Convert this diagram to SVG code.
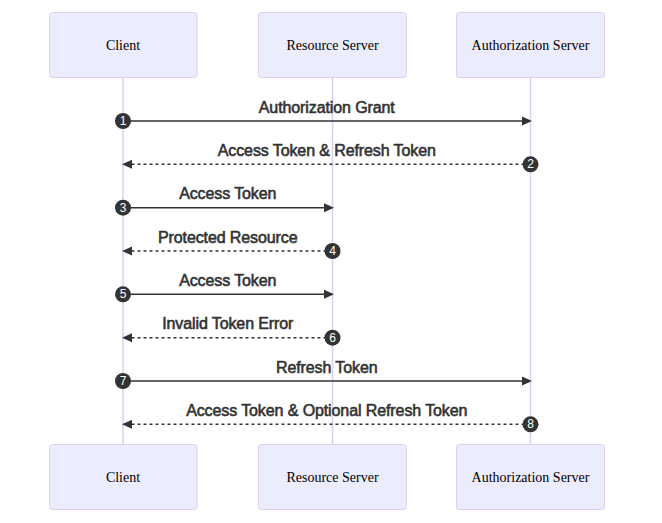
<svg xmlns="http://www.w3.org/2000/svg" width="662" height="523" viewBox="0 0 662 523">
<style>
.actor{fill:#ECECFF;stroke:#DACEF3;stroke-width:1}
.actorText{font-family:"Liberation Serif",serif;font-size:14px;fill:#000;text-anchor:middle;dominant-baseline:central}
.life{stroke:#DACEF3;stroke-width:1.5}
.msg{stroke:#333;stroke-width:1.5;fill:none}
.dash{stroke-dasharray:3,3}
.head{fill:#333}
.label{font-family:"Liberation Sans",Arial,sans-serif;font-size:16px;fill:#333;stroke:#333;stroke-width:0.6;letter-spacing:-0.1px;text-anchor:middle}
.num{fill:#333}
.numText{font-family:"Liberation Sans",Arial,sans-serif;font-size:12px;fill:#fff;text-anchor:middle;dominant-baseline:central}
</style>
<rect width="662" height="523" fill="#fff"/>
<g id="lifelines">
<line class="life" x1="123" y1="77.5" x2="123" y2="444"/>
<line class="life" x1="332.5" y1="77.5" x2="332.5" y2="444"/>
<line class="life" x1="530.5" y1="77.5" x2="530.5" y2="444"/>
</g>
<g id="client-top"><rect class="actor" x="49.5" y="12.5" width="147.5" height="65" rx="3"/><text class="actorText" x="123" y="45">Client</text></g>
<g id="resource-top"><rect class="actor" x="258.5" y="12.5" width="148" height="65" rx="3"/><text class="actorText" x="332.5" y="45">Resource Server</text></g>
<g id="auth-top"><rect class="actor" x="456.5" y="12.5" width="148" height="65" rx="3"/><text class="actorText" x="530.5" y="45">Authorization Server</text></g>
<g id="client-bottom"><rect class="actor" x="49.5" y="444.5" width="147.5" height="65" rx="3"/><text class="actorText" x="123" y="477">Client</text></g>
<g id="resource-bottom"><rect class="actor" x="258.5" y="444.5" width="148" height="65" rx="3"/><text class="actorText" x="332.5" y="477">Resource Server</text></g>
<g id="auth-bottom"><rect class="actor" x="456.5" y="444.5" width="148" height="65" rx="3"/><text class="actorText" x="530.5" y="477">Authorization Server</text></g>
<g id="connectors">
<line class="msg" x1="123" y1="121" x2="522" y2="121"/><polygon class="head" points="532,121 522,116.5 522,125.5"/>
<line class="msg dash" x1="530.5" y1="164.3" x2="132" y2="164.3"/><polygon class="head" points="122,164.3 132,159.8 132,168.8"/>
<line class="msg" x1="123" y1="207.7" x2="324" y2="207.7"/><polygon class="head" points="334,207.7 324,203.2 324,212.2"/>
<line class="msg dash" x1="332.5" y1="251" x2="132" y2="251"/><polygon class="head" points="122,251 132,246.5 132,255.5"/>
<line class="msg" x1="123" y1="294.3" x2="324" y2="294.3"/><polygon class="head" points="334,294.3 324,289.8 324,298.8"/>
<line class="msg dash" x1="332.5" y1="337.7" x2="132" y2="337.7"/><polygon class="head" points="122,337.7 132,333.2 132,342.2"/>
<line class="msg" x1="123" y1="381" x2="522" y2="381"/><polygon class="head" points="532,381 522,376.5 522,385.5"/>
<line class="msg dash" x1="530.5" y1="424.3" x2="132" y2="424.3"/><polygon class="head" points="122,424.3 132,419.8 132,428.8"/>
</g>
<g id="labels">
<text class="label" x="326.75" y="112.5">Authorization Grant</text>
<text class="label" x="326.75" y="155.8">Access Token &amp; Refresh Token</text>
<text class="label" x="227.75" y="199.2">Access Token</text>
<text class="label" x="227.75" y="242.5">Protected Resource</text>
<text class="label" x="227.75" y="285.8">Access Token</text>
<text class="label" x="227.75" y="329.2">Invalid Token Error</text>
<text class="label" x="326.75" y="372.5">Refresh Token</text>
<text class="label" x="326.75" y="415.8">Access Token &amp; Optional Refresh Token</text>
</g>
<g id="sequence-numbers">
<circle class="num" cx="123" cy="121" r="8"/><text class="numText" x="123" y="121">1</text>
<circle class="num" cx="530.5" cy="164.3" r="8"/><text class="numText" x="530.5" y="164.3">2</text>
<circle class="num" cx="123" cy="207.7" r="8"/><text class="numText" x="123" y="207.7">3</text>
<circle class="num" cx="332.5" cy="251" r="8"/><text class="numText" x="332.5" y="251">4</text>
<circle class="num" cx="123" cy="294.3" r="8"/><text class="numText" x="123" y="294.3">5</text>
<circle class="num" cx="332.5" cy="337.7" r="8"/><text class="numText" x="332.5" y="337.7">6</text>
<circle class="num" cx="123" cy="381" r="8"/><text class="numText" x="123" y="381">7</text>
<circle class="num" cx="530.5" cy="424.3" r="8"/><text class="numText" x="530.5" y="424.3">8</text>
</g>
</svg>
